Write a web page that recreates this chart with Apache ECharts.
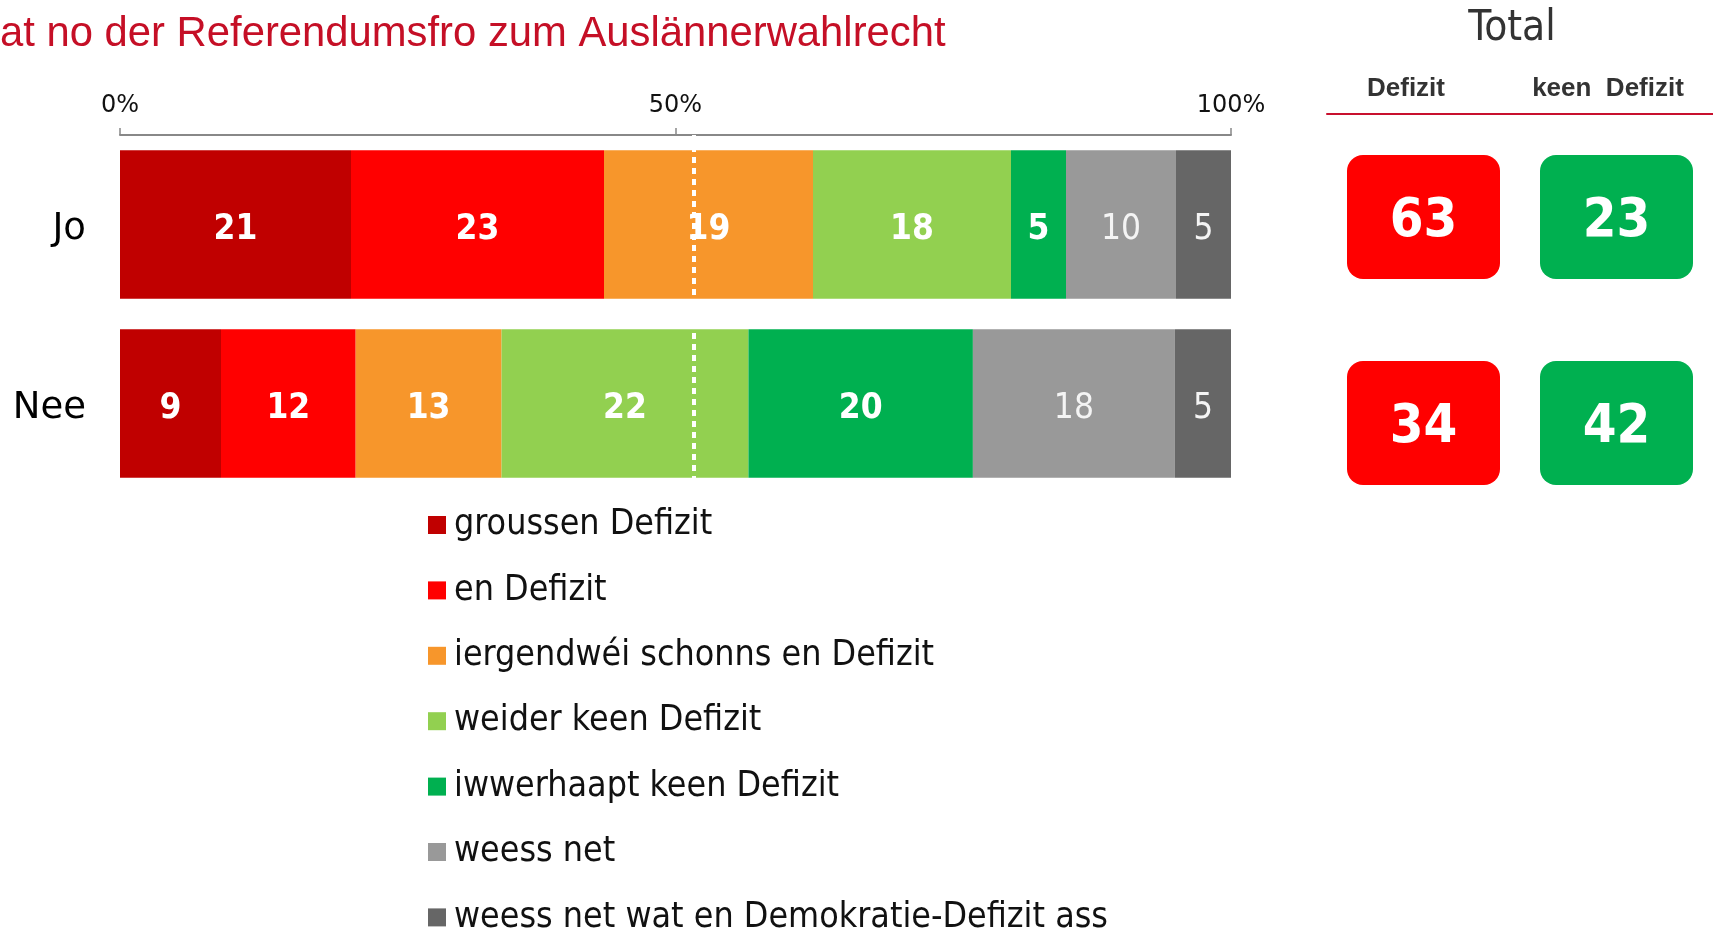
<!DOCTYPE html>
<html>
<head>
<meta charset="utf-8">
<script src="https://cdn.jsdelivr.net/npm/echarts@6/dist/echarts.min.js"></script>
<style>
  html, body { margin: 0; padding: 0; background: #fff; }
  #chart { width: 1713px; height: 930px; }
</style>
</head>
<body>
<div id="chart"></div>
<script>
// Kategorien (Äntwert op d'Referendumsfro)
var categories = ['Jo', 'Nee'];
var segmentNames = [
    'groussen Defizit',
    'en Defizit',
    'iergendwéi schonns en Defizit',
    'weider keen Defizit',
    'iwwerhaapt keen Defizit',
    'weess net',
    'weess net wat en Demokratie-Defizit ass'
];
// Wäerter pro Segment: [Jo, Nee]
var groussenDefizit = [21, 9];
var enDefizit = [23, 12];
var iergendweiDefizit = [19, 13];
var weiderKeenDefizit = [18, 22];
var iwwerhaaptKeenDefizit = [5, 20];
var weessNet = [10, 18];
var weessNetWat = [5, 5];
var axisTicks = [0, 50, 100];
var middelLinn = 51.6;
var totalColumns = ['Defizit', 'keen  Defizit'];

var segments = [groussenDefizit, enDefizit, iergendweiDefizit, weiderKeenDefizit,
    iwwerhaaptKeenDefizit, weessNet, weessNetWat];
var colors = ['#C00000', '#FF0000', '#F7962B', '#92D050', '#00B050', '#999999', '#666666'];

var condensed = "'DejaVu Sans Condensed', 'DejaVu Sans'";

// Zeilentotal, fir d'Balken op 100% ze bréngen
var rowTotal = categories.map(function (c, r) {
    var s = 0;
    segments.forEach(function (seg) { s += seg[r]; });
    return s;
});

// Total Defizit / keen Defizit
var defizitTotal = categories.map(function (c, r) {
    return groussenDefizit[r] + enDefizit[r] + iergendweiDefizit[r];
});
var keenDefizitTotal = categories.map(function (c, r) {
    return weiderKeenDefizit[r] + iwwerhaaptKeenDefizit[r];
});
var boxData = [];
categories.forEach(function (c, r) {
    boxData.push([0, r, defizitTotal[r], '#FF0000']);
    boxData.push([1, r, keenDefizitTotal[r], '#00B050']);
});

var series = segments.map(function (seg, i) {
    var grey = i >= 5;
    var s = {
        name: segmentNames[i],
        type: 'bar',
        stack: 'total',
        xAxisIndex: 0,
        yAxisIndex: 0,
        barCategoryGap: '17%',
        itemStyle: { color: colors[i] },
        label: {
            show: true,
            position: 'inside',
            offset: [0, 5],
            formatter: function (p) { return p.data.raw; },
            color: grey ? '#f4f4f4' : '#fff',
            fontFamily: condensed,
            fontWeight: grey ? 'normal' : 'bold',
            fontSize: 35
        },
        emphasis: { disabled: true },
        data: seg.map(function (v, r) {
            return { value: v / rowTotal[r] * 100, raw: v };
        })
    };
    if (i === segments.length - 1) {
        s.markLine = {
            silent: true,
            symbol: 'none',
            label: { show: false },
            lineStyle: { color: '#fff', type: [6, 5], width: 4 },
            data: [{ xAxis: middelLinn }]
        };
    }
    return s;
});

series.push({
    type: 'custom',
    xAxisIndex: 1,
    yAxisIndex: 1,
    data: boxData,
    renderItem: function (params, api) {
        var c = api.coord([api.value(0), api.value(1)]);
        var w = 153, h = 124;
        return {
            type: 'group',
            children: [{
                type: 'rect',
                shape: { x: c[0] - w / 2, y: c[1] - h / 2, width: w, height: h, r: 16 },
                style: { fill: boxData[params.dataIndex][3] }
            }, {
                type: 'text',
                style: {
                    text: String(api.value(2)),
                    x: c[0],
                    y: c[1] + 5,
                    align: 'center',
                    verticalAlign: 'middle',
                    fill: '#fff',
                    font: 'bold 54px ' + condensed
                }
            }]
        };
    }
});

var myChart = echarts.init(document.getElementById('chart'));

var option = {
    animation: false,
    legend: {
        orient: 'vertical',
        left: 423,
        top: 502,
        height: 700,
        itemWidth: 18,
        itemHeight: 18,
        itemGap: 29.4,
        icon: 'rect',
        selectedMode: false,
        data: segmentNames,
        textStyle: {
            color: '#111',
            fontFamily: condensed,
            fontSize: 35.5,
            lineHeight: 35.5,
            padding: [0, 0, 0, 3]
        }
    },
    graphic: [{
        type: 'text',
        left: 0,
        top: 13,
        style: {
            text: 'at no der Referendumsfro zum Auslännerwahlrecht',
            fill: '#C50F26',
            font: "41.8px 'Liberation Sans', Arial, sans-serif"
        }
    }, {
        type: 'text',
        x: 1512,
        y: 29,
        style: {
            text: 'Total',
            align: 'center',
            verticalAlign: 'middle',
            fill: '#333',
            font: '42px ' + condensed
        }
    }, {
        type: 'text',
        x: 1406,
        y: 89,
        style: {
            text: totalColumns[0],
            align: 'center',
            verticalAlign: 'middle',
            fill: '#333',
            font: "bold 26px 'Liberation Sans', Arial, sans-serif"
        }
    }, {
        type: 'text',
        x: 1608,
        y: 89,
        style: {
            text: totalColumns[1],
            align: 'center',
            verticalAlign: 'middle',
            fill: '#333',
            font: "bold 26px 'Liberation Sans', Arial, sans-serif"
        }
    }],
    grid: [{
        left: 120,
        width: 1111,
        top: 135,
        height: 358
    }, {
        left: 1327,
        width: 387,
        top: 114,
        height: 412
    }],
    xAxis: [{
        type: 'value',
        gridIndex: 0,
        position: 'top',
        min: axisTicks[0],
        max: axisTicks[axisTicks.length - 1],
        interval: axisTicks[1] - axisTicks[0],
        axisLine: { show: true, lineStyle: { color: '#888', width: 2 } },
        axisTick: { show: true, length: 7, lineStyle: { color: '#888', width: 1.5 } },
        splitLine: { show: false },
        axisLabel: {
            formatter: '{value}%',
            color: '#111',
            fontFamily: 'DejaVu Sans',
            fontSize: 24,
            margin: 17
        }
    }, {
        type: 'category',
        gridIndex: 1,
        position: 'top',
        data: totalColumns,
        axisLine: { show: true, lineStyle: { color: '#C8102E', width: 2 } },
        axisTick: { show: false },
        axisLabel: { show: false },
        splitLine: { show: false }
    }],
    yAxis: [{
        type: 'category',
        gridIndex: 0,
        inverse: true,
        data: categories,
        axisLine: { show: false },
        axisTick: { show: false },
        axisLabel: {
            margin: 34,
            formatter: '{a|{value}}',
            rich: {
                a: {
                    color: '#000',
                    fontFamily: 'DejaVu Sans',
                    fontSize: 37,
                    padding: [9, 0, 0, 0]
                }
            }
        }
    }, {
        type: 'category',
        gridIndex: 1,
        inverse: true,
        data: categories,
        show: false
    }],
    series: series
};

myChart.setOption(option);
window.addEventListener('resize', function () {
    myChart.resize();
});
</script>
</body>
</html>
